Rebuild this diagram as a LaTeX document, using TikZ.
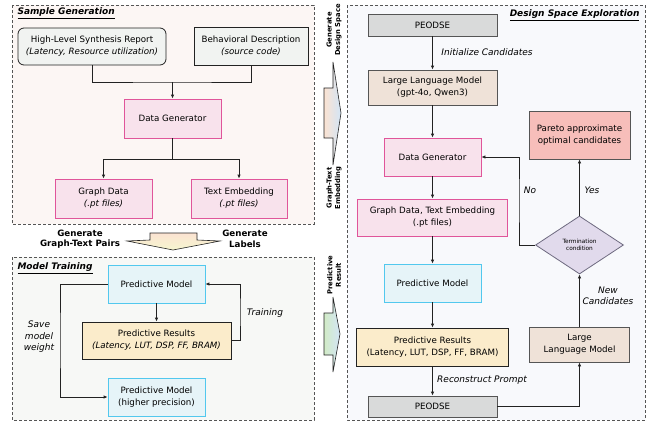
\documentclass[tikz,border=0pt]{standalone}
\usepackage{fontspec}
\setmainfont{DejaVu Sans}
\usetikzlibrary{arrows.meta,shapes.geometric}

\definecolor{linec}{HTML}{222222}
\definecolor{dashc}{HTML}{555555}
\definecolor{pnlA}{HTML}{FCF6F4}
\definecolor{pnlB}{HTML}{F7F8F6}
\definecolor{pnlC}{HTML}{F8F9FC}
\definecolor{greyfill}{HTML}{F1F3F1}
\definecolor{pinkfill}{HTML}{F8E2EC}
\definecolor{pinkline}{HTML}{E0559A}
\definecolor{bluefill}{HTML}{E6F4F8}
\definecolor{blueline}{HTML}{52C8EE}
\definecolor{orangefill}{HTML}{FBECCB}
\definecolor{peofill}{HTML}{D9DADA}
\definecolor{llmfill}{HTML}{EFE2D8}
\definecolor{parfill}{HTML}{F7BEBA}
\definecolor{lavfill}{HTML}{E1DAEC}
\definecolor{lavline}{HTML}{6E6A80}
\definecolor{peach}{HTML}{FBE3D2}
\definecolor{skyl}{HTML}{D3E5F6}
\definecolor{mint}{HTML}{D2EBC6}
\definecolor{lemon}{HTML}{F6F6CF}

\tikzset{
  panel/.style={draw=dashc, line width=0.8pt, dash pattern=on 3pt off 2pt},
  box/.style={draw=linec, line width=0.8pt, align=center, inner sep=0pt},
  greybox/.style={box, fill=greyfill},
  pinkbox/.style={box, draw=pinkline, fill=pinkfill},
  bluebox/.style={box, draw=blueline, fill=bluefill},
  resbox/.style={box, fill=orangefill},
  peobox/.style={box, draw=dashc, fill=peofill},
  llmbox/.style={box, draw=dashc, fill=llmfill},
  conn/.style={draw=linec, line width=0.9pt},
  arr/.style={conn, -{Latex[length=4pt,width=3.5pt]}},
  lbl/.style={font=\fontsize{9}{11.5}\selectfont\itshape, align=center},
  sidelbl/.style={font=\fontsize{6.8}{8.5}\selectfont\bfseries, align=center, rotate=90},
  ttl/.style={font=\fontsize{9}{10}\selectfont\bfseries\itshape},
  blockarrow/.style={draw=linec, line width=0.6pt}
}

\begin{document}
\begin{tikzpicture}[x=1pt, y=-1pt, font=\fontsize{8.7}{12}\selectfont]
\useasboundingbox (0,0) rectangle (655,423);

% panels
\draw[panel, fill=pnlA] (12,5) rectangle (314,224);
\draw[panel, fill=pnlB] (12,257) rectangle (314,420);
\draw[panel, fill=pnlC] (347,5) rectangle (645,420);

\node[ttl, anchor=west] (ttlA) at (14,13) {\underline{Sample Generation}};
\node[ttl, anchor=west] (ttlB) at (14,268) {\underline{Model Training}};
\node[ttl, anchor=east] (ttlC) at (643,15) {\underline{Design Space Exploration}};

% sample generation
\node[greybox, rounded corners=6pt, minimum width=148pt, minimum height=37pt] (hls) at (92,46.5)
  {High-Level Synthesis Report\\\textit{(Latency, Resource utilization)}};
\node[greybox, minimum width=114pt, minimum height=38pt] (beh) at (251,46)
  {Behavioral Description\\\textit{(source code)}};
\node[pinkbox, minimum width=97pt, minimum height=39pt] (dgA) at (172.5,118.5) {Data Generator};
\node[pinkbox, minimum width=97pt, minimum height=39pt] (gdA) at (103.5,198.5)
  {Graph Data\\\textit{(.pt files)}};
\node[pinkbox, minimum width=96pt, minimum height=39pt] (teA) at (239,198.5)
  {Text Embedding\\\textit{(.pt files)}};

\coordinate (jA) at (172.5,82);
\coordinate (jB) at (172.5,159);
\draw[conn] (hls.south) |- (jA) -| (beh.south);
\draw[arr] (jA) -- (dgA.north);
\draw[conn] (dgA.south) -- (jB);
\draw[arr] (jB) -| (gdA.north);
\draw[arr] (jB) -| (teA.north);

% down arrow
\draw[blockarrow, top color=peach, bottom color=lemon]
  (150,233) -- (197,233) -- (197,240) -- (220,241) -- (173,250) -- (127,241) -- (150,240) -- cycle;
\node[font=\fontsize{8.7}{10.5}\selectfont\bfseries, align=center] (gtp) at (80,239) {Generate\\Graph-Text Pairs};
\node[font=\fontsize{8.7}{10.5}\selectfont\bfseries, align=center] (glb) at (245,239) {Generate\\Labels};

% model training
\node[bluebox, minimum width=97pt, minimum height=38pt] (pmA) at (156.5,284) {Predictive Model};
\node[resbox, minimum width=149pt, minimum height=37pt] (prA) at (156.5,340.5)
  {Predictive Results\\\textit{(Latency, LUT, DSP, FF, BRAM)}};
\node[bluebox, minimum width=97pt, minimum height=38pt] (pmB) at (156.5,397)
  {Predictive Model\\(higher precision)};

\coordinate (trn) at (240,312);
\coordinate (sav) at (60,340);
\draw[arr] (pmA.south) -- (prA.north);
\draw[arr] (prA.east) -| (trn) |- (pmA.east);
\draw[arr] (pmA.west) -| (sav) |- (pmB.west);
\node[lbl] (trnl) at (265,313) {Training};
\node[lbl] (savl) at (39,337) {Save\\model\\weight};

% side arrows
\draw[blockarrow, left color=peach, right color=skyl]
  (324,88) -- (333,88) -- (333,62) -- (341,113) -- (333,165) -- (333,138) -- (324,138) -- cycle;
\draw[blockarrow, left color=mint, right color=skyl]
  (324,313) -- (333,313) -- (333,297) -- (340,334) -- (333,372) -- (333,355) -- (324,355) -- cycle;
\node[sidelbl] (gds) at (334,30) {Generate\\Design Space};
\node[sidelbl] (gte) at (334,188) {Graph-Text\\Embedding};
\node[sidelbl] (prs) at (334,275) {Predictive\\Result};

% design space exploration
\node[peobox, minimum width=129pt, minimum height=22pt] (peoA) at (432.5,25) {PEODSE};
\node[llmbox, minimum width=129pt, minimum height=35pt] (llmA) at (432.5,87.5)
  {Large Language Model\\(gpt-4o, Qwen3)};
\node[pinkbox, minimum width=97pt, minimum height=38pt] (dgB) at (432.5,157) {Data Generator};
\node[pinkbox, minimum width=150pt, minimum height=37pt] (gdB) at (432.5,217.5)
  {Graph Data, Text Embedding\\(.pt files)};
\node[bluebox, minimum width=97pt, minimum height=38pt] (pmC) at (432.5,283) {Predictive Model};
\node[resbox, minimum width=152pt, minimum height=38pt] (prB) at (432.5,347)
  {Predictive Results\\(Latency, LUT, DSP, FF, BRAM)};
\node[peobox, minimum width=129pt, minimum height=21pt] (peoB) at (432.5,406.5) {PEODSE};
\node[llmbox, minimum width=100pt, minimum height=35pt] (llmB) at (579.5,344.5)
  {Large\\Language Model};
\node[diamond, draw=lavline, fill=lavfill, line width=0.8pt, inner sep=0pt,
  minimum width=88pt, minimum height=58pt, align=center,
  font=\fontsize{5.8}{7.5}\selectfont] (term) at (579.5,245) {Termination\\condition};
\node[box, draw=dashc, fill=parfill, minimum width=101pt, minimum height=48pt] (par) at (579.5,135)
  {Pareto approximate\\optimal candidates};

\coordinate (nob) at (519,200);
\draw[arr] (peoA.south) -- (llmA.north);
\draw[arr] (llmA.south) -- (dgB.north);
\draw[arr] (dgB.south) -- (gdB.north);
\draw[arr] (gdB.south) -- (pmC.north);
\draw[arr] (pmC.south) -- (prB.north);
\draw[arr] (prB.south) -- (peoB.north);
\draw[arr] (peoB.east) -| (llmB.south);
\draw[arr] (llmB.north) -- (term.south);
\draw[arr] (term.north) -- (par.south);
\draw[arr] (term.west) -| (nob) |- (dgB.east);

\node[lbl] (inil) at (487,52) {Initialize Candidates};
\node[lbl] (recl) at (482,380) {Reconstruct Prompt};
\node[lbl] (newl) at (608,296) {New\\Candidates};
\node[lbl] (nol) at (530,190) {No};
\node[lbl] (yesl) at (592,190) {Yes};
\end{tikzpicture}
\end{document}
